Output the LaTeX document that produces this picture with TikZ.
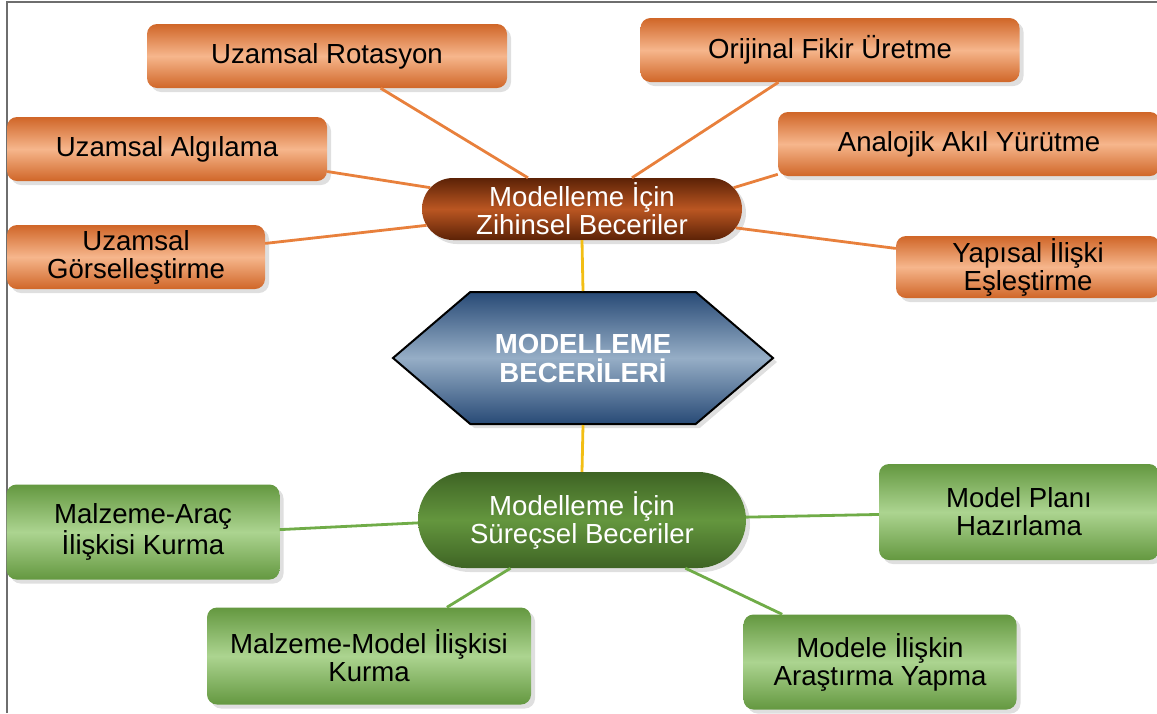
\documentclass[tikz,border=0pt]{standalone}
\usepackage{fontspec}
\setmainfont{Liberation Sans}
\usetikzlibrary{shapes.misc,shapes.symbols,shadows}

\definecolor{orDark}{RGB}{208,102,40}
\definecolor{orLight}{RGB}{246,182,140}
\definecolor{orLine}{RGB}{232,128,60}
\definecolor{grDark}{RGB}{100,152,64}
\definecolor{grLight}{RGB}{172,212,144}
\definecolor{grLine}{RGB}{112,172,72}
\definecolor{brDark}{RGB}{92,34,6}
\definecolor{brMid}{RGB}{186,86,34}
\definecolor{gvDark}{RGB}{62,100,36}
\definecolor{gvMid}{RGB}{100,150,62}
\definecolor{blDark}{RGB}{40,74,118}
\definecolor{blLight}{RGB}{150,174,198}
\definecolor{yeLine}{RGB}{242,190,20}
\definecolor{frameGrey}{RGB}{110,110,110}

\tikzset{
  skill/.style={rectangle,rounded corners=10pt,align=center,inner sep=0pt,
    font=\fontsize{27.6}{28}\selectfont,
    drop shadow={shadow xshift=4pt,shadow yshift=-4pt,opacity=0.25}},
  mentalbox/.style={skill,top color=orDark,bottom color=orDark,middle color=orLight},
  processbox/.style={skill,top color=grDark,bottom color=grDark,middle color=grLight},
  group/.style={rounded rectangle,align=center,inner sep=0pt,text=white,
    font=\fontsize{27.6}{28}\selectfont,
    drop shadow={shadow xshift=4pt,shadow yshift=-4pt,opacity=0.25}},
  mentalline/.style={orLine,line width=2.8pt},
  processline/.style={grLine,line width=2.8pt},
  coreline/.style={yeLine,line width=2.8pt}
}

\begin{document}
\begin{tikzpicture}[x=1pt,y=-1pt]
        \useasboundingbox (0,0) rectangle (1157,713);
        \clip (0,0) rectangle (1157,713);
        %% Frame
        \draw[frameGrey,line width=1.5pt] (7,713) -- (7,2) -- (1157,2);
        %% Mental skills
        \node[mentalbox,minimum width=360pt,minimum height=64pt] (rot) at (327,56) {Uzamsal Rotasyon};
        \node[mentalbox,minimum width=379pt,minimum height=64pt] (ori) at (830,50) {Orijinal Fikir Üretme};
        \node[mentalbox,minimum width=320pt,minimum height=64pt] (alg) at (167,149) {Uzamsal Algılama};
        \node[mentalbox,minimum width=382pt,minimum height=64pt] (ana) at (969,144) {Analojik Akıl Yürütme};
        \node[mentalbox,minimum width=258pt,minimum height=64pt] (gor) at (136,257) {Uzamsal\\Görselleştirme};
        \node[mentalbox,minimum width=264pt,minimum height=62pt] (yap) at (1028,267) {Yapısal İlişki\\Eşleştirme};
        \node[group,top color=brDark,bottom color=brDark,middle color=brMid,
              minimum width=320pt,minimum height=62pt] (zih) at (582,209) {Modelleme İçin\\Zihinsel Beceriler};
        %% Core
        \node[signal,signal to=east and west,signal pointer angle=81,draw=black,line width=2pt,
              top color=blDark,bottom color=blDark,middle color=blLight,
              minimum width=380pt,minimum height=132pt,inner sep=0pt,align=center,text=white,
              font=\fontsize{27.6}{29}\selectfont\bfseries,
              drop shadow={shadow xshift=4pt,shadow yshift=-4pt,opacity=0.25}] (hex) at (583,358) {MODELLEME\\BECERİLERİ};
        %% Process skills
        \node[group,top color=gvDark,bottom color=gvDark,middle color=gvMid,
              minimum width=328pt,minimum height=96pt] (pro) at (582,520) {Modelleme İçin\\Süreçsel Beceriler};
        \node[processbox,minimum width=273pt,minimum height=95pt] (ara) at (143,532) {Malzeme-Araç\\İlişkisi Kurma};
        \node[processbox,minimum width=280pt,minimum height=96pt] (pla) at (1019,512) {Model Planı\\Hazırlama};
        \node[processbox,minimum width=324pt,minimum height=97pt] (mmo) at (369,656) {Malzeme-Model İlişkisi\\Kurma};
        \node[processbox,minimum width=273pt,minimum height=95pt] (mod) at (880,662) {Modele İlişkin\\Araştırma Yapma};
        %% Links
        \draw[mentalline] (rot.-31) -- (zih.150.6);
        \draw[mentalline] (ori.212.6) -- (zih.32.9);
        \draw[mentalline] (alg.-8.2) -- (zih.172);
        \draw[mentalline] (gor.6.6) -- (zih.-174);
        \draw[mentalline] (ana.-171.3) -- (zih.8.9);
        \draw[mentalline] (yap.172.5) -- (zih.-7.5);
        \draw[coreline] (zih.south) -- (hex.north);
        \draw[coreline] (hex.south) -- (pro.north);
        \draw[processline] (ara.1.7) -- (pro.-179);
        \draw[processline] (pla.-179.2) -- (pro.1);
        \draw[processline] (mmo.32.3) -- (pro.-146.3);
        \draw[processline] (mod.154.8) -- (pro.-25.4);
    \end{tikzpicture}
\end{document}
